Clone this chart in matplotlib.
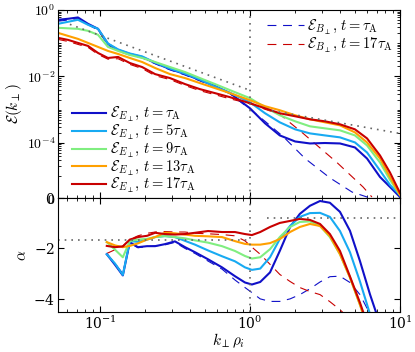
import numpy as np
import matplotlib
matplotlib.use("Agg")
from matplotlib import pyplot as plt
from matplotlib.ticker import FixedLocator, FixedFormatter, NullFormatter

plt.rcParams['font.family'] = ['DejaVu Serif']
plt.rcParams['mathtext.fontset'] = 'cm'
plt.rcParams['axes.formatter.use_mathtext'] = True

# ---- spectra (top panel) ----
k_spec = [0.0525, 0.0612, 0.0713, 0.0832, 0.097, 0.113, 0.132, 0.158, 0.191, 0.233, 0.293, 0.369, 0.464,
          0.585, 0.736, 1.0, 1.26, 1.58, 2.0, 2.51, 3.16, 3.98, 5.01, 6.03, 7.36, 8.58, 10.0]

E_t1 = [0.508, 0.545, 0.597, 0.384, 0.271, 0.0953, 0.0627, 0.0474, 0.0385, 0.0253, 0.0166, 0.0117, 0.00773,
        0.00508, 0.00312, 0.00109, 3.85e-4, 1.66e-4, 1.09e-4, 9.5e-5, 9.8e-5, 9.5e-5, 7.2e-5, 3.34e-5,
        9.5e-6, 5.0e-6, 4.5e-7]
E_t5 = [0.384, 0.442, 0.508, 0.359, 0.271, 0.098, 0.065, 0.049, 0.040, 0.026, 0.0172, 0.0121, 0.0080,
        0.0049, 0.0032, 0.00166, 7.73e-4, 4.12e-4, 2.53e-4, 1.91e-4, 1.66e-4, 1.45e-4, 1.02e-4, 5.08e-5,
        1.45e-5, 5.9e-6, 1.36e-6]
E_t9 = [0.291, 0.281, 0.271, 0.236, 0.179, 0.0773, 0.0585, 0.0442, 0.0359, 0.0271, 0.0191, 0.0135, 0.00888,
        0.00585, 0.00384, 0.0022, 0.00117, 6.72e-4, 4.42e-4, 3.12e-4, 2.71e-4, 2.36e-4, 1.66e-4, 8.28e-5,
        2.53e-5, 8.2e-6, 1.36e-6]
E_t13 = [0.205, 0.166, 0.135, 0.102, 0.0773, 0.0585, 0.0474, 0.0359, 0.0271, 0.0179, 0.0117, 0.00888, 0.00627,
         0.00442, 0.00312, 0.00191, 0.00126, 9.53e-4, 6.72e-4, 5.08e-4, 4.12e-4, 3.34e-4, 2.05e-4, 1.02e-4,
         3.34e-5, 9.5e-6, 1.36e-6]
E_t17 = [0.145, 0.126, 0.102, 0.0828, 0.0508, 0.0359, 0.0385, 0.0253, 0.0191, 0.0117, 0.00888, 0.00585, 0.00412,
         0.00312, 0.00236, 0.00155, 0.00109, 7.73e-4, 6.27e-4, 5.08e-4, 4.42e-4, 3.59e-4, 2.53e-4, 1.35e-4,
         4.12e-5, 1.26e-5, 2.3e-6]

kB_t1 = k_spec[:15] + [1.0, 1.26, 1.66, 2.33, 3.41, 4.79, 6.31]
EB_t1 = [0.46, 0.50, 0.55, 0.36, 0.25, 0.088, 0.058, 0.044, 0.036, 0.024, 0.0157, 0.011, 0.0073, 0.0048, 0.0030,
         1.02e-3, 4.42e-4, 1.55e-4, 3.34e-5, 9.1e-6, 2.7e-6, 1e-8]
kB_t17 = k_spec[:16] + [1.26, 1.58, 2.26, 3.80, 5.67, 6.5]
EB_t17 = [0.13, 0.113, 0.092, 0.075, 0.046, 0.033, 0.034, 0.023, 0.0172, 0.0105, 0.0080, 0.0053, 0.0037, 0.0028,
          0.0021, 0.0015, 1.02e-3, 7.2e-4, 1.91e-4, 2.53e-5, 5e-6, 4.5e-7]

# ---- local slopes (bottom panel) ----
k_alpha = [0.111, 0.126, 0.142, 0.158, 0.179, 0.206, 0.233, 0.271, 0.316, 0.369, 0.43, 0.525, 0.651, 0.794,
           0.926, 1.03, 1.17, 1.36, 1.58, 1.85, 2.15, 2.51, 2.93, 3.41, 3.98, 4.64, 5.41, 6.31, 7.36]
a_t1 = [-2.23, -2.65, -3.07, -1.75, -1.95, -1.91, -1.91, -1.83, -1.72, -1.95, -2.15, -2.43, -2.75, -3.1,
        -3.35, -3.43, -3.33, -2.95, -2.1, -1.15, -0.63, -0.31, -0.12, -0.19, -0.55, -1.3, -2.5, -3.82, -5.0]
a_t5 = [-2.23, -2.6, -3.05, -1.71, -1.74, -1.65, -1.55, -1.51, -1.55, -1.7, -1.85, -2.08, -2.31, -2.51,
        -2.75, -2.85, -2.8, -2.35, -1.63, -1.11, -0.75, -0.6, -0.59, -0.75, -1.31, -2.15, -3.31, -4.6, -6.0]
a_t9 = [-1.75, -2.05, -2.35, -1.71, -1.65, -1.62, -1.55, -1.51, -1.55, -1.6, -1.68, -1.77, -1.91, -2.1,
        -2.3, -2.4, -2.35, -2.03, -1.55, -1.15, -0.95, -0.93, -1.11, -1.55, -2.23, -3.15, -4.23, -5.4, -6.6]
a_t13 = [-1.75, -1.88, -1.95, -1.9, -1.8, -1.65, -1.55, -1.38, -1.4, -1.45, -1.5, -1.52, -1.55, -1.71,
         -1.82, -1.85, -1.85, -1.79, -1.63, -1.35, -1.15, -1.03, -1.11, -1.51, -2.23, -3.15, -4.23, -5.4, -6.6]
a_t17 = [-1.9, -1.95, -1.92, -1.65, -1.55, -1.5, -1.38, -1.43, -1.45, -1.43, -1.38, -1.31, -1.35, -1.35,
         -1.43, -1.47, -1.35, -1.15, -0.99, -0.91, -0.83, -0.87, -1.03, -1.43, -2.1, -3.11, -4.15, -5.3, -6.5]
aB_t1 = [-2.2, -2.6, -3.0, -1.8, -1.97, -1.93, -1.9, -1.86, -1.76, -2.0, -2.2, -2.5, -2.82, -3.25,
         -3.55, -3.75, -4.0, -4.1, -4.1, -4.0, -3.83, -3.6, -3.33, -3.12, -3.1, -3.35, -3.83, -4.6, -6.0]
aB_t17 = [-2.2, -2.05, -1.9, -1.65, -1.5, -1.4, -1.35, -1.33, -1.35, -1.35, -1.4, -1.42, -1.45, -1.5,
          -1.7, -1.95, -2.23, -2.63, -3.03, -3.31, -3.55, -3.71, -3.83, -4.11, -4.43, -4.8, -5.2, -5.6, -6.0]

# reference power laws
guide_lo_k = [0.063, 1.0]
guide_lo_E = [0.37, 3.8e-3]
guide_hi_k = [1.4, 10.0]
guide_hi_E = [9.2e-4, 1.9e-4]
slope_lo = -5 / 3
slope_hi = -0.8

times = ['1', '5', '9', '13', '17']
colors = ['#1010c8', '#18aaf2', '#80ee80', '#ffa000', '#c80000']
dot_style = dict(color='#666666', ls=(0, (1, 3)), lw=1.2)

fig = plt.figure(figsize=(4.15, 3.52), dpi=100)
ax1 = fig.add_axes([0.1398, 0.4375, 0.824, 0.534])
ax2 = fig.add_axes([0.1398, 0.1136, 0.824, 0.324])

dash = (0, (8, 6))
ax1.plot(kB_t1, EB_t1, color=colors[0], lw=0.8, ls=dash, label=r'$\mathcal{E}_{B_\perp},\, t=\tau_\mathrm{A}$')
ax1.plot(kB_t17, EB_t17, color=colors[4], lw=0.8, ls=dash, label=r'$\mathcal{E}_{B_\perp},\, t=17\tau_\mathrm{A}$')
for E, t, c in zip([E_t1, E_t5, E_t9, E_t13, E_t17], times, colors):
    tl = r'\tau_\mathrm{A}' if t == '1' else t + r'\tau_\mathrm{A}'
    ax1.plot(k_spec, E, color=c, lw=1.5, label=r'$\mathcal{E}_{E_\perp},\, t=' + tl + '$')

ax1.plot(guide_lo_k, guide_lo_E, **dot_style)
ax1.plot(guide_hi_k, guide_hi_E, **dot_style)
ax1.axvline(1.0, **dot_style)

ax1.set_xscale('log')
ax1.set_yscale('symlog', linthresh=1e-5, linscale=0.6)
ax1.set_xlim(0.0525, 10)
ax1.set_ylim(0, 1)
ax1.yaxis.set_major_locator(FixedLocator([0, 1e-4, 1e-2, 1]))
ax1.yaxis.set_major_formatter(FixedFormatter(['$0$', '$10^{-4}$', '$10^{-2}$', '$10^{0}$']))
minors = [m * 10.0 ** e for e in range(-5, 0) for m in range(1, 10) if not (m == 1 and e in (-4, -2))]
ax1.yaxis.set_minor_locator(FixedLocator(minors))
ax1.yaxis.set_minor_formatter(NullFormatter())
ax1.xaxis.set_major_formatter(NullFormatter())
ax1.xaxis.set_minor_formatter(NullFormatter())
ax1.set_ylabel(r'$\mathcal{E}(k_\perp)$', fontsize=11, labelpad=2)

h, l = ax1.get_legend_handles_labels()
leg1 = ax1.legend(h[2:], l[2:], loc='lower left', bbox_to_anchor=(0.02, -0.025), frameon=False, fontsize=10.5,
                  handlelength=2.3, handletextpad=0.3, labelspacing=-0.1, borderaxespad=0.1)
ax1.add_artist(leg1)
ax1.legend(h[:2], l[:2], loc='upper right', frameon=False, fontsize=10.5, handlelength=2.5,
           handletextpad=0.2, labelspacing=-0.05, borderaxespad=0.1)

ax2.plot(k_alpha, aB_t1, color=colors[0], lw=0.8, ls=dash)
ax2.plot(k_alpha, aB_t17, color=colors[4], lw=0.8, ls=dash)
for a, c in zip([a_t1, a_t5, a_t9, a_t13, a_t17], colors):
    ax2.plot(k_alpha, a, color=c, lw=1.5)
ax2.plot([0.0525, 1.0], [slope_lo, slope_lo], **dot_style)
ax2.plot([1.3, 10.0], [slope_hi, slope_hi], **dot_style)
ax2.axvline(1.0, **dot_style)

ax2.set_xscale('log')
ax2.set_xlim(0.0525, 10)
ax2.set_ylim(-4.52, 0)
ax2.set_yticks([0, -2, -4])
ax2.set_xlabel(r'$k_\perp \rho_i$', fontsize=11, labelpad=0)
ax2.set_ylabel(r'$\alpha$', fontsize=11, labelpad=3)

for ax in (ax1, ax2):
    ax.tick_params(which='both', direction='in', top=True, right=True, labelsize=10, pad=2)
    ax.tick_params(which='major', length=4)
    ax.tick_params(which='minor', length=2)

fig.savefig('out.png', dpi=100)
